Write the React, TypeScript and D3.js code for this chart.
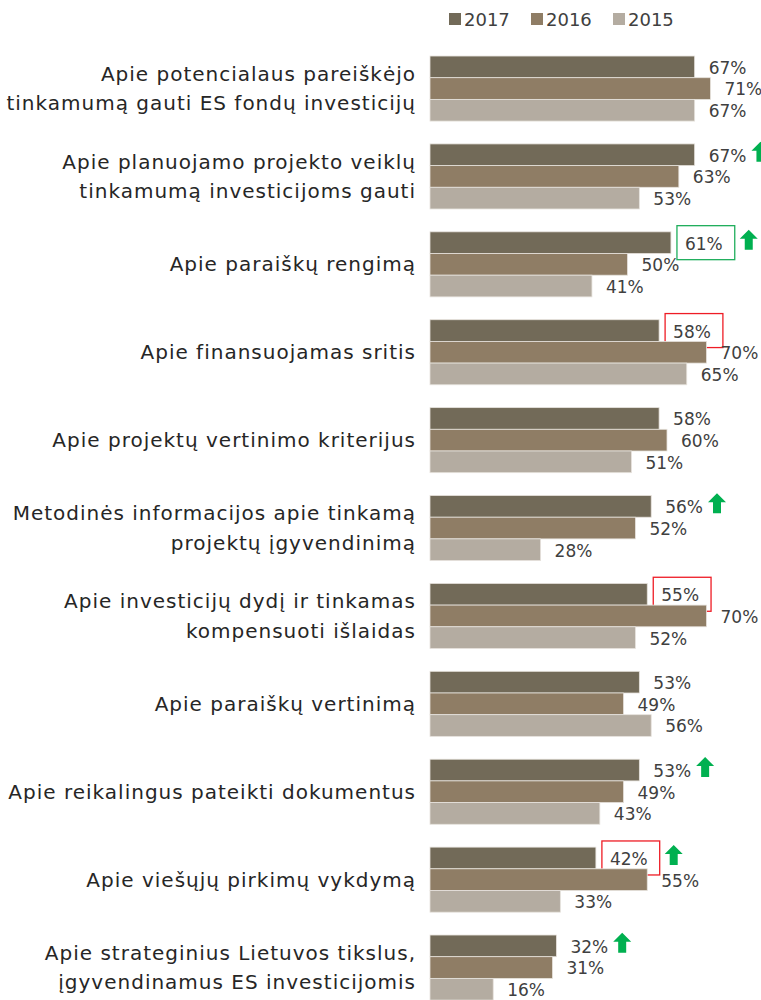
import React, { useEffect, useRef } from 'react';
import * as d3 from 'd3';

const categories: string[][] = [
  ['Apie potencialaus pareiškėjo', 'tinkamumą gauti ES fondų investicijų'],
  ['Apie planuojamo projekto veiklų', 'tinkamumą investicijoms gauti'],
  ['Apie paraiškų rengimą'],
  ['Apie finansuojamas sritis'],
  ['Apie projektų vertinimo kriterijus'],
  ['Metodinės informacijos apie tinkamą', 'projektų įgyvendinimą'],
  ['Apie investicijų dydį ir tinkamas', 'kompensuoti išlaidas'],
  ['Apie paraiškų vertinimą'],
  ['Apie reikalingus pateikti dokumentus'],
  ['Apie viešųjų pirkimų vykdymą'],
  ['Apie strateginius Lietuvos tikslus,', 'įgyvendinamus ES investicijomis'],
];

const years = ['2017', '2016', '2015'];
const values2017 = [67, 67, 61, 58, 58, 56, 55, 53, 53, 42, 32];
const values2016 = [71, 63, 50, 70, 60, 52, 70, 49, 49, 55, 31];
const values2015 = [67, 53, 41, 65, 51, 28, 52, 56, 43, 33, 16];

// 2017 highlights: box colour per category, and which ones got an up arrow
const boxes: (string | null)[] = [null, null, 'green', 'red', null, null, 'red', null, null, 'red', null];
const arrows = [false, true, true, false, false, true, false, false, true, true, true];

const colors: Record<string, string> = { '2017': '#726a58', '2016': '#8f7d65', '2015': '#b4aca1' };
const FONT = '"DejaVu Sans", sans-serif';

export default function App() {
  const ref = useRef<SVGSVGElement>(null);

  useEffect(() => {
    if (!ref.current) return;
    const svg = d3.select(ref.current);
    svg.selectAll('*').remove();

    const series = [values2017, values2016, values2015];
    const x = d3.scaleLinear().domain([0, 100]).range([430, 825]);
    const y = d3.scaleBand<number>()
      .domain(d3.range(categories.length))
      .range([44.6, 1011.5])
      .paddingInner(0.26)
      .paddingOuter(0.13);
    const yi = d3.scaleBand<string>().domain(years).range([0, y.bandwidth()]);

    // legend
    const legend = svg.append('g');
    years.forEach((yr, i) => {
      const g = legend.append('g').attr('transform', `translate(${449 + i * 82},13)`);
      g.append('rect').attr('width', 12).attr('height', 12).attr('fill', colors[yr]);
      g.append('text').attr('x', 15).attr('y', 12.5)
        .attr('font-family', FONT).attr('font-size', 18).attr('fill', '#404040')
        .text(yr);
    });

    categories.forEach((lines, ci) => {
      const g = svg.append('g').attr('transform', `translate(0,${y(ci)})`);
      const cy = y.bandwidth() / 2;

      // category label
      const t = g.append('text')
        .attr('x', 416)
        .attr('text-anchor', 'end')
        .attr('font-family', FONT)
        .attr('font-size', 20)
        .attr('letter-spacing', 1)
        .attr('fill', '#262626');
      lines.forEach((ln, li) => {
        t.append('tspan')
          .attr('x', 416)
          .attr('y', cy + (li - (lines.length - 1) / 2) * 29.5)
          .attr('dy', '0.35em')
          .text(ln);
      });

      years.forEach((yr, si) => {
        const v = series[si][ci];
        const by = yi(yr)!;
        g.append('rect')
          .attr('x', x(0))
          .attr('y', by)
          .attr('width', x(v) - x(0))
          .attr('height', yi.bandwidth())
          .attr('fill', colors[yr])
          .attr('stroke', '#e6e2dc')
          .attr('stroke-width', 0.8);

        const lx = x(v) + 14;
        const lab = g.append('text')
          .attr('x', lx)
          .attr('y', by + yi.bandwidth() / 2 + 1)
          .attr('dy', '0.35em')
          .attr('font-family', FONT)
          .attr('font-size', 17)
          .attr('fill', '#404040')
          .text(`${v}%`);

        if (si === 0) {
          const w = (lab.node() as SVGTextElement).getComputedTextLength();
          let end = lx + w;
          const bc = by + yi.bandwidth() / 2;
          if (boxes[ci]) {
            g.append('rect')
              .attr('x', lx - 8)
              .attr('y', bc - 17)
              .attr('width', w + 20)
              .attr('height', 34)
              .attr('fill', 'none')
              .attr('stroke', boxes[ci] === 'green' ? '#1fae5c' : '#ee1c25')
              .attr('stroke-width', 1.3);
            end = lx + w + 12;
          }
          if (arrows[ci]) {
            const ax = end + 5;
            const ay = bc - 3;
            const path = d3.path();
            path.moveTo(ax + 9, ay - 10);
            path.lineTo(ax + 18, ay - 1);
            path.lineTo(ax + 13, ay - 1);
            path.lineTo(ax + 13, ay + 10);
            path.lineTo(ax + 5, ay + 10);
            path.lineTo(ax + 5, ay - 1);
            path.lineTo(ax, ay - 1);
            path.closePath();
            g.append('path').attr('d', path.toString()).attr('fill', '#00b050');
          }
        }
      });
    });
  }, []);

  return (
    <div style={{ position: 'absolute', left: 0, top: 0 }}>
      <svg ref={ref} width={761} height={1000} style={{ display: 'block', background: '#fff' }} />
    </div>
  );
}
